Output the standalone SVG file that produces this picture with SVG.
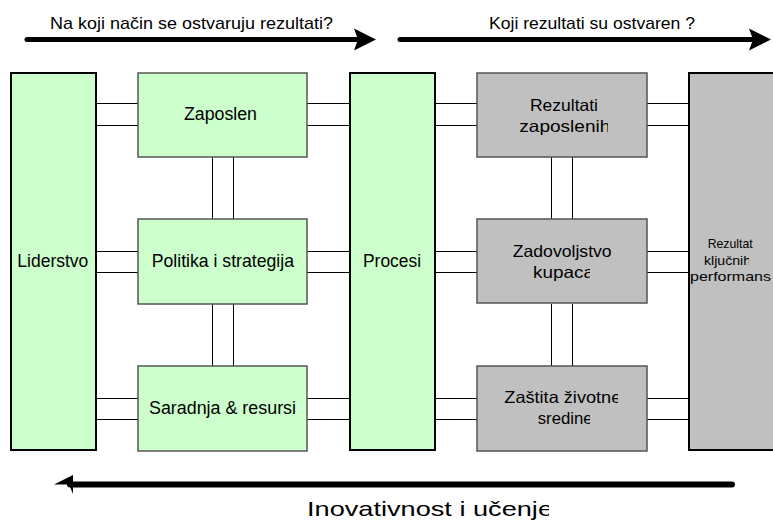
<svg xmlns="http://www.w3.org/2000/svg" width="773" height="520" viewBox="0 0 773 520">
  <style>
    text { font-family: "Liberation Sans", Arial, sans-serif; fill: #000; }
    .enabler { fill: #ccffcc; stroke: #000; stroke-width: 2; }
    .enabler-sm { fill: #ccffcc; stroke: #555; stroke-width: 1.5; }
    .result { fill: #c0c0c0; stroke: #000; stroke-width: 2; }
    .result-sm { fill: #c0c0c0; stroke: #555; stroke-width: 1.5; }
    .band { fill: #fff; stroke: none; }
    .rail { stroke: #000; stroke-width: 1; fill: none; }
    .flow { stroke: #000; stroke-width: 5; stroke-linecap: round; fill: none; }
    .head { fill: #000; }
  </style>
  <defs>
    <clipPath id="clipLider"><rect x="0" y="0" width="89" height="520"/></clipPath>
    <clipPath id="clipZap"><rect x="0" y="0" width="608" height="520"/></clipPath>
    <clipPath id="clipKupaca"><rect x="0" y="0" width="590" height="520"/></clipPath>
    <clipPath id="clipZivot"><rect x="0" y="0" width="618" height="520"/></clipPath>
    <clipPath id="clipSred"><rect x="0" y="0" width="590" height="520"/></clipPath>
    <clipPath id="clipUcenje"><rect x="0" y="0" width="549" height="520"/></clipPath>
    <clipPath id="clipKlj"><rect x="0" y="0" width="749" height="520"/></clipPath>
  </defs>

  <!-- flow arrows and their captions -->
  <g id="flow-arrows">
    <line class="flow" x1="27" y1="39.5" x2="358" y2="39.5"/>
    <polygon class="head" points="354,28.5 376,39.5 354,50.5 358,39.5"/>
    <line class="flow" x1="400" y1="39.5" x2="753" y2="39.5"/>
    <polygon class="head" points="749,28.5 771,39.5 749,50.5 753,39.5"/>
    <line class="flow" x1="70" y1="484.5" x2="732" y2="484.5" style="stroke-width:6"/>
    <polygon class="head" points="54,484.5 73,475 73,494 69,484.5"/>
    <text x="50" y="29" font-size="17" textLength="283" lengthAdjust="spacingAndGlyphs">Na koji način se ostvaruju rezultati?</text>
    <text x="489" y="29" font-size="17" textLength="206" lengthAdjust="spacingAndGlyphs">Koji rezultati su ostvaren ?</text>
    <text x="307" y="515.7" font-size="21" textLength="246" lengthAdjust="spacingAndGlyphs" clip-path="url(#clipUcenje)">Inovativnost i učenje</text>
  </g>

  <!-- connectors: white bands bounded by thin rails -->
  <g id="connectors">
    <g id="row1">
      <rect class="band" x="96" y="103.5" width="42" height="22"/>
      <rect class="band" x="307" y="103.5" width="43" height="22"/>
      <rect class="band" x="435" y="103.5" width="42" height="22"/>
      <rect class="band" x="647" y="103.5" width="42" height="22"/>
      <path class="rail" d="M96,103.5H138M96,125.5H138M307,103.5H350M307,125.5H350M435,103.5H477M435,125.5H477M647,103.5H689M647,125.5H689"/>
    </g>
    <g id="row2">
      <rect class="band" x="96" y="251.5" width="42" height="21"/>
      <rect class="band" x="307" y="251.5" width="43" height="21"/>
      <rect class="band" x="435" y="251.5" width="42" height="21"/>
      <rect class="band" x="647" y="251.5" width="42" height="21"/>
      <path class="rail" d="M96,251.5H138M96,272.5H138M307,251.5H350M307,272.5H350M435,251.5H477M435,272.5H477M647,251.5H689M647,272.5H689"/>
    </g>
    <g id="row3">
      <rect class="band" x="96" y="398.5" width="42" height="21"/>
      <rect class="band" x="307" y="398.5" width="43" height="21"/>
      <rect class="band" x="435" y="398.5" width="42" height="21"/>
      <rect class="band" x="647" y="398.5" width="42" height="21"/>
      <path class="rail" d="M96,398.5H138M96,419.5H138M307,398.5H350M307,419.5H350M435,398.5H477M435,419.5H477M647,398.5H689M647,419.5H689"/>
    </g>
    <!-- vertical bands between stacked boxes -->
    <g id="columns">
      <path class="rail" d="M212.5,157V219M233.5,157V219M212.5,304V366M233.5,304V366"/>
      <path class="rail" d="M551.5,157V219M572.5,157V219M551.5,304V366M572.5,304V366"/>
    </g>
  </g>

  <!-- enablers -->
  <g id="liderstvo">
    <rect class="enabler" x="11" y="73" width="85" height="377"/>
    <text x="17.3" y="267.3" font-size="17.5" clip-path="url(#clipLider)">Liderstvo</text>
  </g>
  <g id="zaposleni">
    <rect class="enabler-sm" x="138" y="73" width="169" height="84"/>
    <text x="184" y="120" font-size="17.5" textLength="73" lengthAdjust="spacingAndGlyphs">Zaposlen</text>
  </g>
  <g id="politika">
    <rect class="enabler-sm" x="138" y="219" width="169" height="85"/>
    <text x="151.7" y="267.3" font-size="17.8" textLength="142.3" lengthAdjust="spacingAndGlyphs">Politika i strategija</text>
  </g>
  <g id="saradnja">
    <rect class="enabler-sm" x="138" y="366" width="169" height="85"/>
    <text x="149" y="414" font-size="17.5" textLength="147" lengthAdjust="spacingAndGlyphs">Saradnja &amp; resursi</text>
  </g>
  <g id="procesi">
    <rect class="enabler" x="350" y="73" width="85" height="377"/>
    <text x="363" y="267.3" font-size="17.5" textLength="58" lengthAdjust="spacingAndGlyphs">Procesi</text>
  </g>

  <!-- results -->
  <g id="rezultati-zaposlenih">
    <rect class="result-sm" x="477" y="73" width="170" height="84"/>
    <text x="530" y="110.5" font-size="16.5" textLength="68" lengthAdjust="spacingAndGlyphs">Rezultati</text>
    <text x="519.3" y="131.7" font-size="16.5" textLength="91" lengthAdjust="spacingAndGlyphs" clip-path="url(#clipZap)">zaposlenih</text>
  </g>
  <g id="zadovoljstvo-kupaca">
    <rect class="result-sm" x="477" y="219" width="170" height="84"/>
    <text x="512.7" y="257.3" font-size="16.5" textLength="99" lengthAdjust="spacingAndGlyphs">Zadovoljstvo</text>
    <text x="533" y="278.3" font-size="16.5" textLength="61" lengthAdjust="spacingAndGlyphs" clip-path="url(#clipKupaca)">kupaca</text>
  </g>
  <g id="zastita-zivotne-sredine">
    <rect class="result-sm" x="477" y="366" width="170" height="85"/>
    <text x="504.3" y="403.3" font-size="16.5" textLength="117" lengthAdjust="spacingAndGlyphs" clip-path="url(#clipZivot)">Zaštita životne</text>
    <text x="537.7" y="424" font-size="16.5" textLength="55" lengthAdjust="spacingAndGlyphs" clip-path="url(#clipSred)">sredine</text>
  </g>
  <g id="kljucne-performanse">
    <rect class="result" x="689" y="73" width="100" height="377"/>
    <text x="707.7" y="248" font-size="13.5" textLength="45" lengthAdjust="spacingAndGlyphs">Rezultat</text>
    <text x="704" y="264.5" font-size="13.5" textLength="47" lengthAdjust="spacingAndGlyphs" clip-path="url(#clipKlj)">ključnih</text>
    <text x="690" y="281" font-size="13.5" textLength="81" lengthAdjust="spacingAndGlyphs">performans</text>
  </g>
</svg>
